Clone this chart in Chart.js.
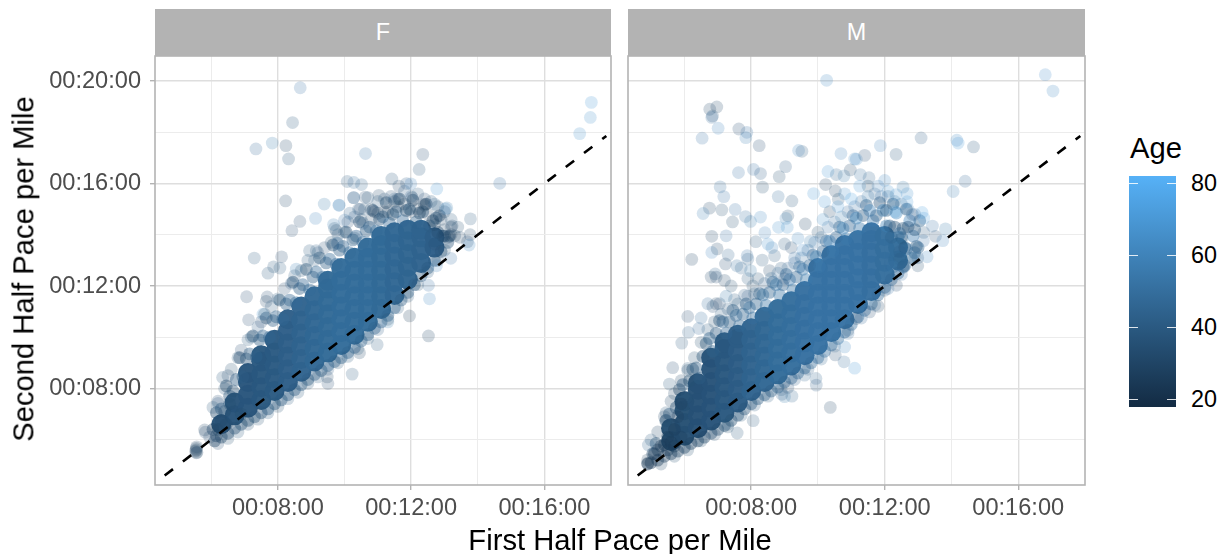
<!DOCTYPE html>
<html><head><meta charset="utf-8">
<script src="https://cdn.jsdelivr.net/npm/chart.js@4"></script>
<style>
html,body{margin:0;padding:0;background:#fff;width:1222px;height:554px;overflow:hidden;font-family:"Liberation Sans",Arial,sans-serif}
#page{position:relative;width:1222px;height:554px}
canvas{position:absolute;top:0}
.abs{position:absolute;white-space:nowrap;line-height:1}
.strip{position:absolute;top:9px;height:47px;background:#b3b3b3;color:#fff;font-size:23.4px;text-align:center;line-height:47px}
.tk{position:absolute;width:9px;height:1.2px;background:#fff;opacity:.85}
</style></head><body>
<div id="page">
<div class="strip" style="left:155px;width:456px">F</div>
<div class="strip" style="left:628px;width:457px">M</div>
<canvas id="cF" width="620" height="554" style="left:0;width:620px;height:554px"></canvas>
<canvas id="cM" width="480" height="554" style="left:620px;width:480px;height:554px"></canvas>
<div class="abs" style="left:620px;top:526px;font-size:29.2px;transform:translateX(-50%);color:#000">First Half Pace per Mile</div>
<div class="abs" style="left:24px;top:269px;font-size:29.2px;color:#000;transform:translate(-50%,-50%) rotate(-90deg)">Second Half Pace per Mile</div>
<div class="abs" style="left:1130px;top:134px;font-size:29.2px;color:#000">Age</div>
<div id="bar" style="position:absolute;left:1129px;top:176px;width:47px;height:231px"></div>
</div>
<script>
const panelNames = ["F","M"];
const xTicks = [6,8,10,12,14,16];
const yTicks = [6,8,10,12,14,16,18,20];
const legendAges = [80,60,40,20];
const referenceLine = [4.6,17.86];

// [first half pace, second half pace, age]; paces in minutes per mile
const femaleScatter = [
[8.67,19.74,52],[8.44,18.38,38],[7.34,17.35,48],[7.83,17.58,55],[8.24,17.48,32],[8.32,16.96,38],[10.63,17.17,54],
[10.08,16.08,40],[10.28,16.04,50],[10.51,15.96,45],[8.23,15.32,32],[9.39,15.2,55],[9.84,15.16,58],[10.27,15.45,35],[10.62,15.47,35],[10.42,15,40],
[9.13,14.64,60],[8.66,14.52,35],[8.42,14.16,35],[9.67,14.4,58],[9.75,14.17,32],[7.29,13.09,40],[8.11,13.14,35],[7.87,12.75,38],[8.95,13.38,38],[9.15,13.38,42],[9.8,13.67,35],[8.55,12.66,58],
[17.41,19.17,68],[17.38,18.58,66],[17.06,17.95,66],[14.66,16.01,52],[12.35,17.14,35],[12.24,16.55,38],[11.42,16.18,38],[11.63,15.9,32],[11.86,16,42],[11.99,15.99,60],[12.77,15.79,68],[13.03,15.01,62],
[13.78,14.62,40],[13.23,14.35,35],[13.77,14,32],[13.31,13.96,30],[13.11,13.9,32],[13.69,13.73,35],[13.74,13.6,62],[13.19,13.08,52],[12.76,12.79,60],[12.71,13.64,35],
[7.06,11.58,35],[7.68,11.57,35],[7.65,11.4,32],[7.12,10.68,35],[7.55,10.9,66],[6.34,8.43,38],[10.23,8.56,40],[9.5,8.19,35],[9.48,8.45,32],[11.95,10.83,28],[12.52,10.05,30],[12.55,11.5,62],[12.52,12.03,52],[10.98,9.71,40],[10.45,9.39,30],[11.3,10.6,55],
[5.55,5.66,30],[5.55,5.49,30],[5.55,5.6,28],[5.53,5.55,28],[5.56,5.72,32],[5.57,5.5,32],[5.82,6.29,35],[6.05,7.26,38],[6.2,7.42,42],[5.8,6.38,30],[5.95,6.1,35],[7.7,12.5,38],[8.06,12.7,40],
[6.2,7.5,35],[6.4,8,38],[6.5,8.5,35],[6.6,8.75,36],[6.8,9.2,38],[6.9,9.5,35],[7.1,9.9,40],[7.2,10,38],[7.4,10.4,42],[7.5,10.6,35],[7.6,10.9,36],[7.8,11.2,40],[8,11.5,38],[8.2,11.9,35],[8.4,12.1,42],[8.5,12.4,40],[8.7,12.6,36],[8.9,13,38],[9.1,13,40],[9.2,13.3,38],[9.4,13.5,35],[9.6,13.7,36],[9.8,14,40],[10,14.1,38],[10.1,14.5,35],[10.3,14.7,42],[10.5,14.6,36],[10.6,15,38],[10.8,15,32],[11,15.3,38],[11.2,15.4,40],[11.4,15.5,35],[11.6,15.4,33],[11.8,15.7,42],[12,15.5,45],[12.2,15.6,40],[12.4,15.4,35],[12.6,15.3,38],[12.8,15.1,36],[13,14.9,35],[13.2,14.6,38],[13.4,14.3,36],
[6.2,5.85,35],[6.5,6.05,36],[6.8,6.3,38],[7.1,6.6,34],[7.4,6.8,36],[7.7,7.05,38],[8,7.3,36],[8.3,7.6,40],[8.6,7.85,38],[8.9,8.2,36],[9.2,8.45,38],[9.5,8.75,42],[9.8,9,36],[10.1,9.25,38],[10.4,9.55,40],[10.7,9.95,38],[11,10.3,42],[11.3,10.7,36],[11.6,11.15,40],[11.9,11.6,38],[12.2,12.05,36],[12.5,12.55,38],[12.8,13,40],[13,13.4,36],
[11.2,14.9,28],[11.6,15.1,28],[12.2,15,28],[12.5,14.8,28],[12,14.9,30],[12.4,15.2,30],[11.5,15.3,28],[10.9,14.9,30],[12.7,14.4,28],[12.9,14.6,30],[13.2,14,28],[13,14.2,30],
[10.28,15.45,50],[9.83,15.15,60],[10.16,14.84,45],[10.46,15,35],[10,14.57,52],[9.7,14.25,40],[10.7,15.45,38],[11.03,15.54,32],[11,14.84,30],[10.55,14.45,42],[10.3,13.87,40],[9.77,13.67,50],[11.5,15.4,45],[12.03,15.45,32],[12.4,15.15,28],[12.7,15.2,45],[13.07,15.05,55],[13.2,14.3,30],[13.46,13.9,32],[10.8,14.6,30],[11.3,14.9,30],[11.8,15.2,30]
];
// semi-solid rim of the cloud
const femaleRim = [
[6.15,7.05,34],[6.3,7.2,40],[6.45,8.1,32],[6.75,8.35,40],[6.85,9.2,33],[7.15,9.35,42],[7.25,10.05,35],[7.55,10.05,44],[7.65,10.75,35],[7.95,10.8,45],[8.05,11.45,36],[8.35,11.45,46],[8.45,12.15,35],[8.75,12.05,46],[8.85,12.65,36],[9.15,12.55,48],[9.25,13.1,36],[9.55,13.05,48],[9.65,13.6,35],[9.95,13.55,46],[10.05,14.1,36],[10.35,13.95,46],[10.45,14.5,34],[10.75,14.3,44],[10.85,14.95,33],[11.15,14.7,44],[11.25,15.25,32],[11.55,14.9,44],[11.65,15.4,32],[11.95,15,42],[12.05,15.35,30],[12.35,14.9,40],[12.45,15.2,30],[12.75,14.65,42],[12.85,14.75,30],[13.15,13.95,34],
[6.55,7.7,38],[6.65,7.9,36],[6.95,8.45,42],[7.05,9.15,38],[7.35,9.25,44],[7.45,9.9,40],[7.75,10,46],[7.85,10.65,42],[8.15,10.7,48],[8.25,11.3,42],[8.55,11.35,48],[8.65,11.9,42],[8.95,11.85,48],[9.05,12.35,42],[9.35,12.35,48],[9.45,12.9,42],[9.75,12.85,48],[9.85,13.4,42],[10.15,13.3,48],[10.25,13.8,42],[10.55,13.7,48],[10.65,14.15,40],[10.95,14.15,48],[11.05,14.6,38],[11.35,14.45,46],[11.45,14.8,36],[11.75,14.55,46],[11.85,14.95,34],[12.15,14.5,44],[12.25,14.85,32],[12.55,14.35,42],[12.65,14.55,32],[12.95,13.95,36],
[6.1,5.95,32],[6.3,6.1,32],[6.5,6.25,34],[6.7,6.45,34],[6.9,6.6,36],[7.1,6.75,36],[7.3,6.9,38],[7.5,7.05,38],[7.7,7.2,40],[7.9,7.4,40],[8.1,7.55,40],[8.3,7.75,40],[8.5,7.95,40],[8.7,8.15,42],[8.9,8.35,42],[9.1,8.55,42],[9.3,8.7,42],[9.5,8.9,44],[9.7,9.05,44],[9.9,9.2,44],[10.1,9.4,44],[10.3,9.6,44],[10.5,9.85,44],[10.7,10.1,44],[10.9,10.35,44],[11.1,10.6,44],[11.3,10.85,44],[11.5,11.15,44],[11.7,11.45,42],[11.9,11.75,42],[12.1,12.05,42],[12.3,12.4,40],[12.5,12.7,40],[12.7,13,40],[12.9,13.35,38],[13.1,13.7,38],
[6.2,6.4,32],[6.05,6.4,32],[6.15,6.15,32],[6.3,6.75,34],[6.45,6.6,34],[6.4,7.1,34],[6.55,7.4,36],[6.9,7,36],[13,13.95,34],[12.8,14.1,34]
];
// [first half pace, age, second half paces of the filled body in that column]
const femaleBody = [
[6.3,37,[6.6]],
[6.7,38,[6.95,7.45]],
[7.1,39,[7.25,7.75,8.25,8.6]],
[7.5,40,[7.55,8.05,8.55,9.05,9.3]],
[7.9,41,[7.9,8.4,8.9,9.4,9.9]],
[8.3,43,[8.25,8.75,9.25,9.75,10.25,10.7]],
[8.7,45,[8.65,9.15,9.65,10.15,10.65,11.2]],
[9.1,47,[9.05,9.55,10.05,10.55,11.05,11.6]],
[9.5,48,[9.4,9.9,10.4,10.9,11.4,11.9,12.2]],
[9.9,49,[9.7,10.2,10.7,11.2,11.7,12.2,12.7]],
[10.3,49,[10.1,10.6,11.1,11.6,12.1,12.6,13.1]],
[10.7,49,[10.6,11.1,11.6,12.1,12.6,13.1,13.5]],
[11.1,48,[11.1,11.6,12.1,12.6,13.1,13.6,13.95]],
[11.5,47,[11.65,12.15,12.65,13.15,13.65,14.1]],
[11.9,46,[12.25,12.75,13.25,13.75,14.2]],
[12.3,45,[12.9,13.4,13.9,14.2]],
[12.7,43,[13.5,13.9]]
];
const maleScatter = [
[10.26,20.03,62],[6.97,18.99,32],[6.76,18.9,32],[6.84,18.64,40],[6.82,18.58,48],[7.01,18.16,60],[6.53,17.77,52],[7.63,18.13,35],[7.87,18,52],[7.84,17.79,58],[8.24,17.48,35],[9.42,17.29,62],[9.52,17.26,40],[10.69,17.17,60],[11.1,16.96,62],[9.03,16.66,42],[7.62,16.43,52],[8.07,16.55,52],[8.28,16.39,42],[8.84,16.27,36],[10.3,16.47,68],[10.55,16.35,45],[10.78,16.3,55],[10.97,16.53,32],[10.23,15.96,32],[10.52,15.71,30],[7.07,15.87,50],[8.34,15.86,36],[7.18,15.49,52],[8.81,15.49,50],[9.22,15.32,38],[9.87,15.61,68],[6.75,15.04,32],[6.56,14.83,58],[7.12,14.97,36],[7.52,14.99,52],[7.83,14.71,50],[7.98,14.52,55],[8.28,14.69,62],[7.44,14.5,36],[10.2,15.29,68],[10.61,15.39,36],[9.1,14.74,36],[9.04,14.64,58],[8.82,14.29,66],[9.08,14.29,66],[9.62,14.42,30],[6.82,13.94,32],[7.25,13.96,52],[8.41,14.08,60],[8.14,13.73,38],[6.82,13.31,60],[6.98,13.45,32],[8.5,13.64,66],[7.31,13.21,45],[6.22,13.04,30],[7.23,12.86,35],[7.57,12.79,50],[7.88,13.18,52],[7.9,13.05,45],[8.33,13.01,38],[8.62,13.5,60],[9,13.64,40],[9.4,13.86,62],[9.77,13.74,55],[6.92,12.47,45],[7.98,12.6,55],[8.7,13.18,40],[9.2,13.5,35],
[16.81,20.25,65],[17.04,19.61,62],[13.09,17.78,42],[14.16,17.69,62],[14.2,17.58,68],[14.66,17.43,38],[14.41,16.09,48],[14.05,15.69,58],[11.87,17.48,60],[11.4,17.1,35],[12.34,17.14,38],[11.15,16.95,62],[11.27,16.35,50],[11.53,16.23,45],[12,16.12,62],[12.55,15.86,55],[12.67,15.61,66],[12.34,15.57,66],[12.67,15.29,70],[13.12,14.87,72],[13.17,14.65,70],[12.83,14.79,35],[13.43,14.34,52],[13.82,14.23,55],[13.17,14.09,38],[13.52,13.94,35],[13.74,13.77,60],[13.16,13.77,52],[12.52,13.86,38],[12.45,13.34,42],[13.27,13.14,62],[12.99,13.1,42],[12.99,12.79,36],[12.57,12.73,45],[12.17,12.86,50],
[6.1,10.81,35],[5.65,8.81,35],[5.55,8.17,38],[6.12,10.19,45],[5.92,9.77,40],[6.5,10.75,50],[6.43,10.34,48],[6.1,8.78,40],[5.45,7.05,38],[5.43,6.74,40],[4.92,5.79,45],[4.9,5.08,28],[4.9,5.21,28],[5,5.99,40],[8.06,6.74,40],[7.58,6.26,38],[10.37,7.26,32],[11.1,8.79,68],[10.78,9.04,50],[10.52,9.31,35],[10.8,9.62,62],[9.95,8.13,42],[9.94,8.39,45],[9.22,7.7,45],[9,7.68,55],[8.92,7.77,42],[9.1,8.04,35],[9.6,8.52,45],[7.3,6.6,40],[6.7,11.31,50],[6.95,11.31,32],[7.05,11.31,35],[6.8,12.35,32],[6.95,12.35,35],[7.2,12.22,32],[7.5,11.47,38],[7.8,11.64,42],[7.9,12.29,40],[8.2,12.29,36],[9,12.29,35],[11.8,11.21,30],[11.55,10.99,35],[11.15,10.73,32],[10.9,10.27,38],[12.35,12.03,35],[12,11.83,40],
[6.85,11.2,35],[7.25,11.6,55],[7.4,12,36],[7.7,12.7,45],[8.05,12,36],[8.55,12.6,30],[8.9,12.7,38],[9.3,13.1,52],[9.55,13.4,65],[10,14.1,36],[10.15,14.6,66],[10.35,14.9,30],[10.6,15.1,70],[10.8,15.6,66],[11,15.4,72],[11.25,15.9,68],[11.5,15.9,36],[11.8,15.9,60],[12.1,15.7,66],[12.3,14.9,72],
[5.3,5.05,30],[5.7,5.35,34],[6.1,5.6,34],[6.5,5.95,34],[6.9,6.2,36],[7.3,6.5,36],[7.7,6.95,38],[8.1,7.35,38],[8.5,7.7,40],[8.9,7.95,40],[9.3,8.35,42],[9.7,8.75,42],[10.1,9.15,45],[10.5,9.65,45],[10.9,10.15,48],[11.3,10.75,48],[11.7,11.25,50],[12.1,11.9,52],[12.5,12.45,52],[12.9,13.1,55],
[5.2,6.3,30],[5.4,6.9,32],[5.6,7.5,30],[5.7,7.8,30],[5.9,8.3,32],[6.1,8.7,34],[6.3,9.2,36],[6.5,9.8,34],[6.7,10.3,38],[6.9,10.6,36],[7.1,10.9,40],[7.3,11.1,38],[7.6,11.3,40],[7.9,11.6,42],[8.1,11.7,40],[8.4,12.1,42],[8.6,12.3,45],[8.8,12.5,48],[9.1,12.7,46],[9.3,12.9,48],[9.5,13.1,50],[9.7,13.4,48],[9.9,13.7,52],[10.1,13.9,50],[10.3,14.3,52],[10.5,14.5,50],[10.7,14.7,55],[10.9,14.9,48],[11.1,15.1,52],[11.3,15.3,50],[11.5,15.5,55],[11.7,15.6,48],[11.9,15.5,52],[12.1,15.5,50],[12.3,15.3,55],[12.5,15.2,50],[12.7,15,58],[12.9,14.8,52]
];
const maleRim = [
[5.05,5.45,32],[5.15,5.85,36],[5.45,6.75,32],[5.55,7,38],[5.85,7.95,32],[5.95,8.15,40],[6.25,8.75,34],[6.35,8.8,42],[6.65,9.75,36],[6.75,9.95,44],[7.05,10.65,38],[7.15,10.6,46],[7.45,11.05,40],[7.55,10.85,48],[7.85,11.3,40],[7.95,11.15,50],[8.25,11.7,40],[8.35,11.65,52],[8.65,12.15,44],[8.75,12.05,54],[9.05,12.45,46],[9.15,12.25,56],[9.45,12.75,48],[9.55,12.65,56],[9.85,13.2,46],[9.95,13.15,58],[10.25,13.75,46],[10.35,13.75,60],[10.65,14.3,44],[10.75,14.25,62],[11.05,14.75,44],[11.15,14.65,62],[11.45,15.15,40],[11.55,14.95,60],[11.85,15.25,38],[11.95,14.95,62],[12.25,15.2,40],[12.35,14.85,62],[12.65,15,40],[12.75,14.55,60],[13.05,14.55,44],
[5.75,7.25,36],[6.05,7.65,38],[6.15,8.3,36],[6.45,8.4,42],[6.55,9.25,38],[6.85,9.45,44],[6.95,10.15,40],[7.25,10.15,46],[7.35,10.6,42],[7.65,10.45,48],[7.75,10.9,44],[8.05,10.75,50],[8.15,11.3,44],[8.45,11.25,52],[8.55,11.75,44],[8.85,11.65,52],[8.95,12.05,46],[9.25,11.85,52],[9.35,12.35,46],[9.65,12.25,54],[9.75,12.8,46],[10.05,12.75,54],[10.15,13.35,46],[10.45,13.35,54],[10.55,13.9,46],[10.85,13.85,54],[10.95,14.35,46],[11.25,14.25,54],[11.35,14.75,42],[11.65,14.55,56],[11.75,14.75,42],[12.05,14.35,58],[12.15,14.35,40],[12.45,14.05,58],[12.55,14.25,40],[12.85,13.95,56],[12.95,13.55,42],[12.65,13.45,54],[12.45,13.05,44],[12.25,12.75,52],[12.55,12.75,44],[12.05,14.95,40],
[12.3,14.3,38],[12.5,13.9,44],[12.7,14.3,38],[12.9,14.2,40],[12.4,13.9,52],[12.6,13.5,40],[12.9,13.3,46],[12.2,13.9,44],
[4.9,5.05,26],[5,5.1,26],[5.2,5.2,26],[5.4,5.35,28],[5.6,5.45,28],[5.8,5.55,30],[6,5.7,30],[6.2,5.85,30],[6.4,5.95,32],[6.6,6.1,32],[6.8,6.25,34],[7,6.4,34],[7.2,6.55,36],[7.4,6.75,36],[7.6,6.95,38],[7.8,7.2,38],[8,7.4,40],[8.2,7.6,40],[8.4,7.75,42],[8.6,7.9,42],[8.8,8.05,44],[9,8.25,44],[9.2,8.4,46],[9.4,8.6,46],[9.6,8.8,48],[9.8,9,48],[10,9.2,50],[10.2,9.45,50],[10.4,9.7,50],[10.6,9.95,50],[10.8,10.2,50],[11,10.5,50],[11.2,10.8,50],[11.4,11.05,50],[11.6,11.3,48],[11.8,11.65,48],[12,11.95,46],[12.2,12.25,46],[12.4,12.5,46],[12.6,12.8,44],[12.8,13.1,44],[13,13.5,44],
[5.1,5.45,28],[5.3,5.75,28],[5.5,6.1,28],[5.4,5.8,28],[5.6,5.9,28],[5.7,6.4,28],[5.8,6.9,30],[5.5,5.6,28],[5.9,7.4,30],[5.2,5.6,28],[5.7,5.75,28],[5.9,6.1,30]
];
const maleBody = [
[5.6,35,[5.95,6.45]],
[6,36,[6.15,6.65,7.15,7.5]],
[6.4,37,[6.45,6.95,7.45,7.95,8.2]],
[6.8,38,[6.75,7.25,7.75,8.25,8.75,9.2]],
[7.2,40,[7.05,7.55,8.05,8.55,9.05,9.55,9.8]],
[7.6,42,[7.45,7.95,8.45,8.95,9.45,9.95,10.1]],
[8,45,[7.9,8.4,8.9,9.4,9.9,10.35]],
[8.4,47,[8.25,8.75,9.25,9.75,10.25,10.8]],
[8.8,49,[8.55,9.05,9.55,10.05,10.55,11.1]],
[9.2,50,[8.9,9.4,9.9,10.4,10.9,11.4]],
[9.6,51,[9.3,9.8,10.3,10.8,11.3,11.8]],
[10,52,[9.7,10.2,10.7,11.2,11.7,12.2,12.7]],
[10.4,52,[10.2,10.7,11.2,11.7,12.2,12.7,13.2]],
[10.8,52,[10.7,11.2,11.7,12.2,12.7,13.2,13.6]],
[11.2,52,[11.3,11.8,12.3,12.8,13.3,13.8]],
[11.6,51,[11.8,12.3,12.8,13.3,13.8,14.1]],
[12,50,[12.45,12.95,13.45,13.95]],
[12.4,49,[13,13.5]]
];

function ageColor(age,alpha){
  const t=Math.max(0,Math.min(1,(age-20)/60));
  const c=[19+67*t,43+134*t,67+180*t].map(Math.round);
  return `rgba(${c[0]},${c[1]},${c[2]},${alpha})`;
}
const toPoints = rows => rows.map(r=>({x:r[0],y:r[1],age:r[2]}));
const bodyPoints = rows => rows.flatMap(c=>c[2].map(y=>({x:c[0],y,age:c[1]})));
const paceLabel = v => "00:"+String(v).padStart(2,"0")+":00";
const isMajor = v => v%4===0;
const frame = {id:"frame",afterDraw(c){const a=c.chartArea,g=c.ctx;g.save();g.strokeStyle="#b3b3b3";g.lineWidth=1.6;g.strokeRect(a.left,a.top,a.right-a.left,a.bottom-a.top);g.restore();}};

function makePanel(id,scatter,rim,body,left,right,withY){
  new Chart(document.getElementById(id),{
    type:"scatter",
    data:{datasets:[
      {data:referenceLine.map(v=>({x:v,y:v})),showLine:true,pointRadius:0,borderColor:"#000",borderWidth:2.6,borderDash:[10.5,12.5],borderCapStyle:"butt"},
      {data:toPoints(scatter),pointRadius:6.4,pointBorderWidth:0,pointBackgroundColor:c=>ageColor(c.raw.age,.21)},
      {data:toPoints(rim),pointRadius:6.4,pointBorderWidth:0,pointBackgroundColor:c=>ageColor(c.raw.age,.4)},
      {data:bodyPoints(body),pointRadius:10,pointBorderWidth:0,pointBackgroundColor:c=>ageColor(c.raw.age,.97)}
    ]},
    options:{
      responsive:false,animation:false,events:[],
      layout:{autoPadding:false,padding:{left,right,top:56,bottom:0}},
      plugins:{legend:{display:false},tooltip:{enabled:false}},
      scales:{
        x:{type:"linear",min:4.31,max:18,
          afterBuildTicks:s=>{s.ticks=xTicks.map(v=>({value:v}));},
          afterFit:s=>{s.height=69;},
          border:{display:false},
          grid:{tickLength:5,lineWidth:c=>isMajor(c.tick.value)?1.4:1,color:c=>isMajor(c.tick.value)?"#dedede":"#ececec",tickColor:c=>isMajor(c.tick.value)?"#b3b3b3":"rgba(0,0,0,0)"},
          ticks:{autoSkip:false,maxRotation:0,padding:4,color:"#4d4d4d",font:{family:"Liberation Sans",size:23.6},callback:v=>isMajor(v)?paceLabel(v):""}},
        y:{type:"linear",min:4.23,max:20.98,
          afterBuildTicks:s=>{s.ticks=yTicks.map(v=>({value:v}));},
          afterFit:s=>{s.width=withY?155:0;},
          border:{display:false},
          grid:{tickLength:withY?5:0,lineWidth:c=>isMajor(c.tick.value)?1.4:1,color:c=>isMajor(c.tick.value)?"#dedede":"#ececec",tickColor:c=>isMajor(c.tick.value)&&withY?"#b3b3b3":"rgba(0,0,0,0)"},
          ticks:{display:withY,autoSkip:false,padding:9,color:"#4d4d4d",font:{family:"Liberation Sans",size:23.6},callback:v=>isMajor(v)?paceLabel(v):""}}
      }
    },
    plugins:[frame]
  });
}
makePanel("cF",femaleScatter,femaleRim,femaleBody,0,9,true);
makePanel("cM",maleScatter,maleRim,maleBody,8,15,false);

// colour bar legend
const bar=document.getElementById("bar");
bar.style.background="linear-gradient(to bottom,"+ageColor(82,1)+","+ageColor(18,1)+")";
const page=document.getElementById("page");
legendAges.forEach(a=>{
  const y=183.3+(80-a)*3.6;
  [1129,1167].forEach(x=>{const t=document.createElement("div");t.className="tk";t.style.left=x+"px";t.style.top=(y-.6)+"px";page.appendChild(t);});
  const l=document.createElement("div");l.className="abs";l.textContent=a;l.style.cssText+=`left:1191px;top:${y-11.5}px;font-size:23.4px;color:#000`;page.appendChild(l);
});
</script>
</body></html>
